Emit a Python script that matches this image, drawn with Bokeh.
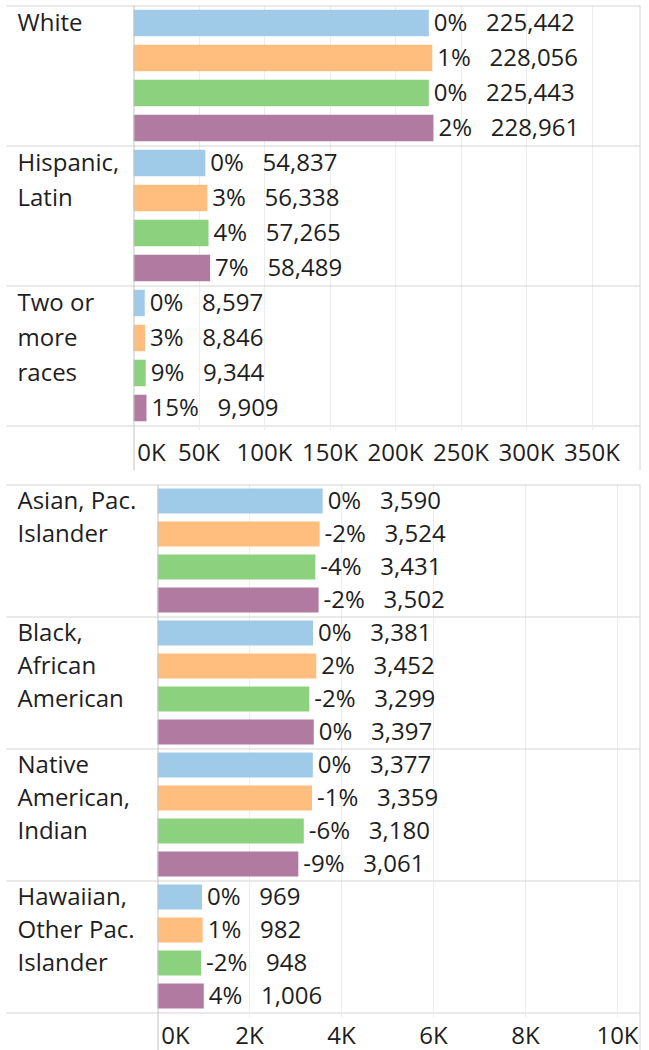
from bokeh.plotting import figure
from bokeh.models import Range1d, FixedTicker, LinearAxis, Grid, ColumnDataSource
from bokeh.layouts import column
from bokeh.embed import file_html
from bokeh.resources import INLINE
from bokeh.core.properties import value

# ---------------- data ----------------
series_colors = ["#a0cbe8", "#ffbe7d", "#8cd17d", "#b07aa1"]

top_categories = ["White", "Hispanic,\nLatin", "Two or\nmore\nraces"]
white = [225442, 228056, 225443, 228961]
hispanic_latin = [54837, 56338, 57265, 58489]
two_or_more_races = [8597, 8846, 9344, 9909]
top_values = [white, hispanic_latin, two_or_more_races]
top_ticks = [0, 50000, 100000, 150000, 200000, 250000, 300000, 350000]
top_tick_labels = ["0K", "50K", "100K", "150K", "200K", "250K", "300K", "350K"]

bottom_categories = ["Asian, Pac.\nIslander", "Black,\nAfrican\nAmerican",
                     "Native\nAmerican,\nIndian", "Hawaiian,\nOther Pac.\nIslander"]
asian_pac_islander = [3590, 3524, 3431, 3502]
black_african_american = [3381, 3452, 3299, 3397]
native_american_indian = [3377, 3359, 3180, 3061]
hawaiian_other_pac = [969, 982, 948, 1006]
bottom_values = [asian_pac_islander, black_african_american,
                 native_american_indian, hawaiian_other_pac]
bottom_ticks = [0, 2000, 4000, 6000, 8000, 10000]
bottom_tick_labels = ["0K", "2K", "4K", "6K", "8K", "10K"]

# ---------------- style ----------------
FONT = "Open Sans"
FONT_SIZE = "24px"
TEXT_COLOR = "#1e1e1e"
SEP_COLOR = "#d4d4d4"
AXIS_COLOR = "#c4c4c4"
GRID_COLOR = "#ededed"
FIG_W = 649
LEFT_PX = 6          # where separators start
RIGHT_PX = 639       # right border line
CAT_TEXT_PX = 17     # category label left edge
ZERO_LABEL_SHIFT = 18
TEXT_DY = -2
GAP = "\u00a0\u00a0 "


def make_panel(categories, values, ticks, tick_labels, zero_px, px_per_unit,
               top_pad, pitch, axis_h, fig_h, standoff):
    n_series = len(values[0])
    n_rows = len(categories) * n_series
    body_end = top_pad + n_rows * pitch
    line_end = body_end + axis_h
    x0 = -zero_px / px_per_unit
    x1 = (FIG_W - zero_px) / px_per_unit

    def px(v):
        return (v - zero_px) / px_per_unit

    p = figure(width=FIG_W, height=fig_h, x_range=Range1d(x0, x1), y_range=Range1d(fig_h, 0),
               x_axis_type=None, y_axis_type=None, output_backend="svg",
               toolbar_location=None, min_border=0, outline_line_color=None,
               background_fill_color="white", border_fill_color="white")

    p.add_layout(Grid(dimension=0, ticker=FixedTicker(ticks=ticks[1:]),
                      grid_line_color=GRID_COLOR))

    ys, rights, colors, labels = [], [], [], []
    for c, vals in enumerate(values):
        base = vals[0]
        for k, v in enumerate(vals):
            ys.append(top_pad + (c * n_series + k + 0.5) * pitch)
            rights.append(v)
            colors.append(series_colors[k])
            pct = int(round((v / base - 1) * 100))
            labels.append(f"{pct}%{GAP}{v:,}")
    src = ColumnDataSource(dict(y=ys, right=rights, color=colors, label=labels))
    p.hbar(y="y", left=0, right="right", height=pitch * 0.76, fill_color="color",
           line_color=None, source=src)
    p.text(x="right", y="y", text="label", x_offset=5, y_offset=TEXT_DY,
           text_baseline="middle", text_align="left", text_font=value(FONT),
           text_font_size=FONT_SIZE, text_color=TEXT_COLOR, source=src)

    cx, cy, ct = [], [], []
    for c, name in enumerate(categories):
        for j, line in enumerate(name.split("\n")):
            cx.append(px(CAT_TEXT_PX))
            cy.append(top_pad + (c * n_series + j + 0.5) * pitch)
            ct.append(line)
    p.text(x=cx, y=cy, text=ct, y_offset=TEXT_DY, text_baseline="middle", text_align="left",
           text_font=value(FONT), text_font_size=FONT_SIZE, text_color=TEXT_COLOR)

    # axis row background hides grid lines there (and the area above the top line)
    p.quad(left=x0, right=x1, top=body_end + 1, bottom=fig_h, fill_color="white", line_color=None)
    p.quad(left=x0, right=x1, top=0, bottom=top_pad, fill_color="white", line_color=None)

    sep_y = [top_pad + c * n_series * pitch + 0.5 for c in range(len(categories) + 1)]
    p.segment(x0=[px(LEFT_PX)] * len(sep_y), x1=[px(RIGHT_PX + 0.5)] * len(sep_y),
              y0=sep_y, y1=sep_y, line_color=SEP_COLOR, line_width=1)
    zx = px(zero_px + 0.5)
    p.segment(x0=[zx], x1=[zx], y0=[top_pad], y1=[line_end],
              line_color=AXIS_COLOR, line_width=1)
    rx = px(RIGHT_PX + 0.5)
    p.segment(x0=[rx], x1=[rx], y0=[top_pad], y1=[line_end],
              line_color=SEP_COLOR, line_width=1)

    common = dict(fixed_location=body_end, axis_line_color=None, minor_tick_line_color=None,
                  major_tick_in=0, major_label_text_font=FONT,
                  major_label_text_font_size=FONT_SIZE, major_label_text_color=TEXT_COLOR)
    zero_tick = ticks[0] + int(round(ZERO_LABEL_SHIFT / px_per_unit))
    ax0 = LinearAxis(ticker=FixedTicker(ticks=[zero_tick]),
                     major_label_overrides={zero_tick: tick_labels[0]},
                     major_tick_out=0, major_tick_line_color=None,
                     major_label_standoff=5 + standoff, **common)
    ax = LinearAxis(ticker=FixedTicker(ticks=ticks[1:]),
                    major_label_overrides=dict(zip(ticks[1:], tick_labels[1:])),
                    major_tick_out=5, major_tick_line_color=GRID_COLOR,
                    major_label_standoff=standoff, **common)
    p.add_layout(ax0, "below")
    p.add_layout(ax, "below")
    return p


p_top = make_panel(top_categories, top_values, top_ticks, top_tick_labels,
                   zero_px=133, px_per_unit=65.5 / 50000, top_pad=5, pitch=35,
                   axis_h=45, fig_h=477, standoff=4)
p_bottom = make_panel(bottom_categories, bottom_values, bottom_ticks, bottom_tick_labels,
                      zero_px=157, px_per_unit=46 / 1000, top_pad=7, pitch=33,
                      axis_h=38, fig_h=573, standoff=0)

layout = column(p_top, p_bottom, spacing=0)
open("out.html", "w").write(file_html(layout, INLINE))
